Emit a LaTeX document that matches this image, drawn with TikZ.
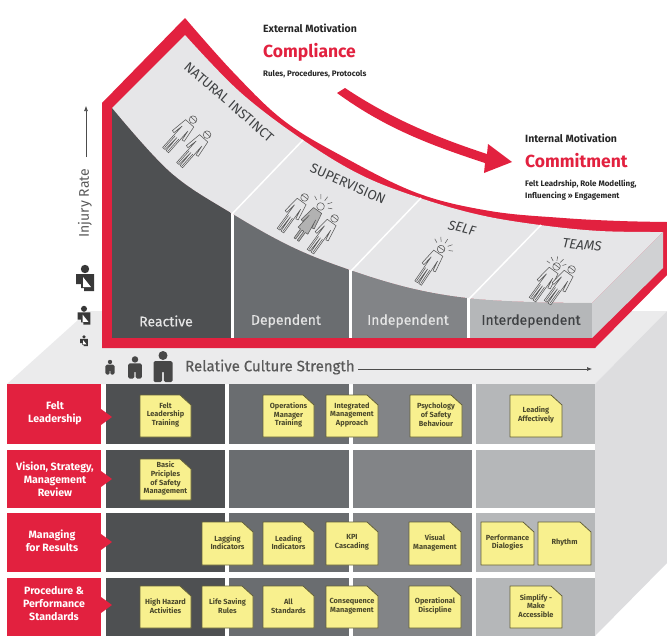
\documentclass[tikz,border=0pt]{standalone}
\usepackage{fontspec}
\setmainfont{Fira Sans}
\newfontfamily\medfont[FakeBold=0.35]{Fira Sans}
\usetikzlibrary{arrows.meta}
\definecolor{brandred}{HTML}{E2213F}
\definecolor{colA}{HTML}{4E5052}
\definecolor{colB}{HTML}{6A6D70}
\definecolor{colC}{HTML}{828487}
\definecolor{colD}{HTML}{B5B7B9}
\definecolor{topface}{HTML}{E6E6E8}
\definecolor{sideface}{HTML}{D0D1D3}
\definecolor{plate}{HTML}{EBEBEC}
\definecolor{wall}{HTML}{DDDDDF}
\definecolor{noteyellow}{HTML}{F8F08E}
\definecolor{inkgrey}{HTML}{3F4143}
\newcommand{\fs}[1]{\fontsize{#1}{#1}\selectfont}
\newcommand{\fsl}[2]{\fontsize{#1}{#2}\selectfont}
\tikzset{
  notebox/.style={fill=noteyellow,draw=black!60!noteyellow,line width=.8pt,line join=round},
  notetext/.style={align=center,inner sep=0pt,font=\fsl{7.4}{8.8}\bfseries,text=black!70!noteyellow},
  rowlabel/.style={align=center,inner sep=0pt,text=white,font=\fsl{10.6}{13}\bfseries},
  phase/.style={inner sep=0pt,font=\medfont\fs{14}},
  stagetext/.style={inner sep=0pt,font=\fs{13.5},text=inkgrey},
  heading/.style={anchor=west,inner sep=0pt,font=\fs{10.5}\bfseries,text=black!85},
  bigword/.style={anchor=west,inner sep=0pt,font=\fs{17.5}\bfseries,text=brandred},
  smallnote/.style={anchor=west,inner sep=0pt,font=\fs{8}\bfseries,text=black!85},
  person/.pic={
    \draw[line width=.55pt,draw=black!65,fill=topface,line join=round]
      (-5.5,-13) -- (5.5,-13) -- (8,4) -- (5.5,4.5) -- (3.8,-6) -- (4,23) -- (.7,23) -- (0,6) -- (-.8,23) -- (-4,23) -- (-3.8,-6) -- (-5.5,4.5) -- (-8,4) -- cycle;
    \draw[line width=.55pt,draw=black!65] (-2.4,6) -- (-2.4,22) (2.4,6) -- (2.4,22);
    \draw[line width=.55pt,draw=black!65,fill=topface] (0,-18) circle (3.8);
    \draw[line width=.55pt,draw=black!65] (-3.8,-18.5) -- (3.8,-18.5);
  },
  leadperson/.pic={
    \draw[line width=.55pt,draw=black!65,fill=black!30,line join=round]
      (-5,-13) -- (5,-13) -- (8,4) -- (5.5,4.5) -- (4,-4) -- (6,12) -- (3,12) -- (3,23) -- (1,23) -- (1,12) -- (-1,12) -- (-1,23) -- (-3,23) -- (-3,12) -- (-6,12) -- (-4,-4) -- (-5.5,4.5) -- (-8,4) -- cycle;
    \draw[line width=.55pt,draw=black!65,fill=topface] (0,-18) circle (3.8);
  },
  rays/.pic={
    \draw[line width=.5pt,draw=black!65] (0,-25) -- (0,-30) (-4,-24) -- (-7,-28) (4,-24) -- (7,-28) (-7,-21) -- (-11,-23) (7,-21) -- (11,-23);
  },
  slingman/.pic={
    \fill[black!78] (0,-10) circle (4.2);
    \fill[black!78] (-9,-5) -- (9,-5) -- (9,12) -- (-1,12) -- (-1,9) -- (-4,9) -- (-4,5) -- (-9,5) -- cycle;
    \fill[white] (-2,-2) -- (6,8) -- (-2,8) -- cycle;
  },
  standman/.pic={
    \fill[black!72] (0,-10.5) circle (4.5);
    \fill[black!72,rounded corners=1.5pt] (-9.5,-5) -- (9.5,-5) -- (9.5,16) -- (.8,16) -- (.8,5) -- (-.8,5) -- (-.8,16) -- (-9.5,16) -- cycle;
  }
}
\newcommand{\notecard}[6]{%
  \draw[notebox] (#2,#4) -- ({#3-11},#4) -- (#3,{#4+10}) -- (#3,#5) -- (#2,#5) -- cycle;
  \node[notetext] (#1) at ({(#2+#3)/2},{(#4+#5)/2-1}) {#6};
}
\begin{document}
\begin{tikzpicture}[x=1pt,y=-1pt]
\useasboundingbox (0,0) rectangle (667,640);
% plinth
\fill[plate] (88,311) -- (667,311) -- (595,384) -- (7,384) -- cycle;
\fill[wall] (595,384) -- (667,311) -- (667,563) -- (595,636) -- cycle;
% red frame
\fill[brandred,line join=round] (102,103) -- plot[smooth,tension=.6] coordinates {(185,18) (233,72) (283,120) (340,155) (417,193) (490,211) (563,218) (620,221) (667,222)} -- (667,275) -- (595,348) -- (102,348) -- cycle;
% top surface
\fill[topface] (112,108) -- plot[smooth,tension=.6] coordinates {(185,35) (240,92) (303,140) (361,175) (420,198) (480,215) (540,225) (600,231) (663,232)} -- (592,303) -- plot[smooth,tension=.6] coordinates {(592,303) (530,302) (467,298) (410,288) (350,270) (292,247) (231,213) (170,172) (112,108)} -- cycle;
\fill[sideface] (663,232) -- (592,303) -- (592,338) -- (663,268) -- cycle;
% front panels
\begin{scope}
\clip plot[smooth,tension=.6] coordinates {(112,108) (170,172) (231,213) (292,247) (350,270) (410,288) (467,298) (530,302) (592,303)} -- (592,338) -- (112,338) -- cycle;
\fill[white] (112,100) rectangle (592,338);
\fill[colA] (112,100) rectangle (231,338);
\fill[colB] (234,100) rectangle (349,338);
\fill[colC] (352,100) rectangle (467,338);
\fill[colD] (470,100) rectangle (592,338);
\end{scope}
\draw[white,line width=1.5pt] (232,214) -- (303,140) (351,271) -- (421,198) (469,299) -- (541,225);
% phase names
\node[phase,text=white!90!black] (reactive) at (166,321) {Reactive};
\node[phase,text=white!90!black] (dependent) at (286,321) {Dependent};
\node[phase,text=white!90!black] (independent) at (408,321) {Independent};
\node[phase,text=inkgrey] (interdependent) at (531,321) {Interdependent};
% stage names
\node[stagetext,rotate=-41] (natural) at (229,102) {NATURAL INSTINCT};
\node[stagetext,rotate=-24] (supervision) at (348,184) {SUPERVISION};
\node[stagetext,rotate=-14,font=\fs{13.5}\itshape] (self) at (462,228) {SELF};
\node[stagetext,rotate=-6,font=\fs{13.5}\itshape] (teams) at (582,245) {TEAMS};
% figures
\pic[rotate=-42] at (181,133) {person};
\pic[rotate=-42] at (195,148) {person};
\pic[rotate=-36] at (294,212) {person};
\pic[rotate=-36] at (310,221) {leadperson};
\pic[rotate=-36] at (310,221) {rays};
\pic[rotate=-36] at (324,233) {person};
\pic[rotate=-34] at (431,264) {person};
\pic[rotate=-34] at (431,264) {rays};
\pic[rotate=-36] at (546,281) {person};
\pic[rotate=-36] at (561,284) {person};
\pic[rotate=-10,scale=.9] at (553,283) {rays};
% big arrow
\fill[brandred] (337,93) .. controls (385,128) and (430,145) .. (485,163) -- (484,173) -- (512,162) -- (488,144) -- (487,154) .. controls (435,137) and (390,118) .. (345,88) -- cycle;
% headings
\node[heading] (ext) at (263,28) {External Motivation};
\node[bigword] (compliance) at (263,52) {Compliance};
\node[smallnote] (rules) at (263,74) {Rules, Procedures, Protocols};
\node[heading] (int) at (525,138) {Internal Motivation};
\node[bigword] (commitment) at (525,161) {Commitment};
\node[smallnote] (felt) at (525,184) {Felt Leadrship, Role Modelling,};
\node[smallnote] (influ) at (525,196) {Influencing ›› Engagement};
% axes
\node[inner sep=0pt,rotate=90,font=\fs{14},text=black!65] (injury) at (85,203) {Injury Rate};
\coordinate (injA) at (86,157);
\coordinate (injB) at (86,106);
\draw[-{Latex[length=5pt,width=4pt]},line width=.6pt,black!70] (injA) -- (injB);
\node[inner sep=0pt,anchor=west,font=\medfont\fs{15},text=black!65] (culture) at (185,367) {Relative Culture Strength};
\coordinate (culA) at (358,369);
\coordinate (culB) at (592,369);
\draw[-{Latex[length=5pt,width=4pt]},line width=.6pt,black!70] (culA) -- (culB);
\pic[scale=1] at (85,279) {slingman};
\pic[scale=.72] at (84,316) {slingman};
\pic[scale=.42] at (84,341) {slingman};
\pic[scale=.48] at (110,367) {standman};
\pic[scale=.72] at (135,367) {standman};
\pic[scale=1] at (163,366) {standman};
% matrix panels
\foreach \ya/\yb in {384/444,450/508,513/572,578/636}{
  \fill[colA] (106,\ya) rectangle (225,\yb);
  \fill[colB] (229,\ya) rectangle (349,\yb);
  \fill[colC] (353,\ya) rectangle (472,\yb);
  \fill[colD] (476,\ya) rectangle (595,\yb);
}
\foreach \ya/\yb/\ym in {384/444/417,450/508/479,513/572/542,578/636/605}{
  \fill[brandred] (7,\ya) rectangle (101,\yb);
  \fill[brandred] (101,{\ym-8}) -- (112,\ym) -- (101,{\ym+8}) -- cycle;
}
\node[rowlabel] (felt1) at (55,413.5) {Felt\\Leadership};
\node[rowlabel] (vision) at (55,479) {Vision, Strategy,\\Management\\Review};
\node[rowlabel] (managing) at (52,540.5) {Managing\\for Results};
\node[rowlabel] (procedure) at (54,604) {Procedure \&\\Performance\\Standards};
% notes
\notecard{n1}{140}{191}{395}{437}{Felt\\Leadership\\Training}
\notecard{n2}{263}{314}{395}{437}{Operations\\Manager\\Training}
\notecard{n3}{326}{378}{395}{437}{Integrated\\Management\\Approach}
\notecard{n4}{410}{462}{395}{437}{Psychology\\of Safety\\Behaviour}
\notecard{n5}{510}{562}{395}{437}{Leading\\Affectively}
\notecard{n6}{140}{191}{459}{500}{Basic\\Priciples\\of Safety\\Management}
\notecard{n7}{202}{253}{522}{565}{Lagging\\Indicators}
\notecard{n8}{263}{314}{522}{565}{Leading\\Indicators}
\notecard{n9}{326}{378}{522}{565}{KPI\\Cascading}
\notecard{n10}{409}{461}{522}{565}{Visual\\Management}
\notecard{n11}{481}{534}{522}{565}{Performance\\Dialogies}
\notecard{n12}{538}{591}{522}{565}{Rhythm}
\notecard{n13}{140}{191}{586}{628}{High Hazard\\Activities}
\notecard{n14}{202}{253}{586}{628}{Life Saving\\Rules}
\notecard{n15}{263}{314}{586}{628}{All\\Standards}
\notecard{n16}{326}{378}{586}{628}{Consequence\\Management}
\notecard{n17}{409}{461}{586}{628}{Operational\\Discipline}
\notecard{n18}{510}{562}{586}{628}{Simplify -\\Make\\Accessible}
\end{tikzpicture}
\end{document}
